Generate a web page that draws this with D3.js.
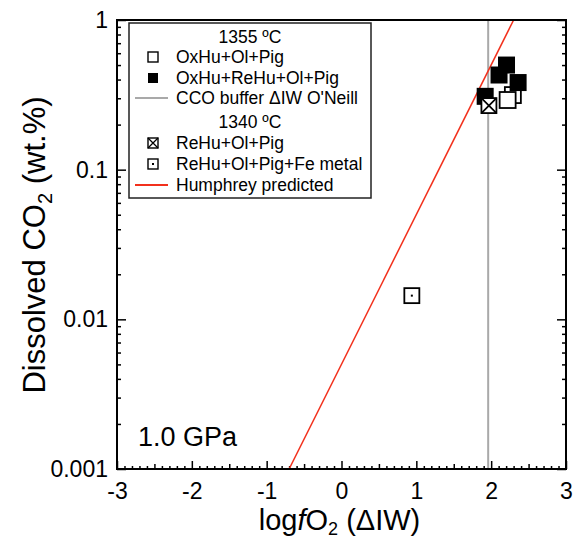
<!DOCTYPE html>
<html>
<head>
<meta charset="utf-8">
<script src="https://cdn.jsdelivr.net/npm/d3@7"></script>
<style>
  body { margin: 0; background: #fff; }
  text { font-family: "Liberation Sans", Arial, sans-serif; fill: #000; }
</style>
</head>
<body>
<div id="chart"></div>
<script>
// data
const oxHuOlPig = [{ x: 2.29, y: 0.315 }, { x: 2.22, y: 0.292 }];
const oxHuReHuOlPig = [
  { x: 1.92, y: 0.309 }, { x: 2.105, y: 0.429 },
  { x: 2.205, y: 0.50 }, { x: 2.36, y: 0.382 }
];
const reHuOlPig = [{ x: 1.97, y: 0.268 }];
const reHuOlPigFe = [{ x: 0.94, y: 0.0144 }];
const ccoBuffer = 1.96;
const humphrey = [{ x: -0.70, y: 0.001 }, { x: 2.30, y: 1 }];
const xTickValues = [-3, -2, -1, 0, 1, 2, 3];
const yTickValues = [0.001, 0.01, 0.1, 1];
const yTickLabels = ["0.001", "0.01", "0.1", "1"];
const legendRows = [
  { type: "header", label: "1355 ºC" },
  { type: "open", label: "OxHu+Ol+Pig" },
  { type: "filled", label: "OxHu+ReHu+Ol+Pig" },
  { type: "gray", label: "CCO buffer \u0394IW O'Neill" },
  { type: "header", label: "1340 ºC" },
  { type: "cross", label: "ReHu+Ol+Pig" },
  { type: "dot", label: "ReHu+Ol+Pig+Fe metal" },
  { type: "red", label: "Humphrey predicted" }
];

let margin = { left: 117, top: 20, right: 12, bottom: 70 };
let width = 578 - margin.left - margin.right;
let height = 539 - margin.top - margin.bottom;

let svg = d3.select("#chart").append("svg")
  .attr("width", 578)
  .attr("height", 539);

let g = svg.append("g")
  .attr("transform", "translate(" + margin.left + "," + margin.top + ")");

let x = d3.scaleLinear().domain([-3, 3]).range([0, width]);
let y = d3.scaleLog().domain([0.001, 1]).range([height, 0]);

const red = "#f2301c";
const gray = "#a9a9a9";

// minor tick values
let xMinor = d3.range(-30, 31).map(d => d / 10).filter(d => Math.abs(d * 2 - Math.round(d * 2)) > 1e-6);
let xHalf = d3.range(-5, 6, 2).map(d => d / 2);
let yMinor = [];
[0.001, 0.01, 0.1].forEach(dec => { for (let k = 2; k <= 9; k++) yMinor.push(dec * k); });

function styleAxis(sel) {
  sel.select(".domain").remove();
  sel.selectAll("line").attr("stroke", "#000").attr("stroke-width", 1.5);
  sel.selectAll("text").style("font-size", "23px").attr("fill", "#000");
}

g.append("g").attr("transform", "translate(0," + height + ")")
  .call(d3.axisBottom(x).tickValues(xMinor).tickSize(-3).tickFormat(""))
  .call(styleAxis);
g.append("g").attr("transform", "translate(0," + height + ")")
  .call(d3.axisBottom(x).tickValues(xHalf).tickSize(-5).tickFormat(""))
  .call(styleAxis);
g.append("g").attr("transform", "translate(0," + height + ")")
  .call(d3.axisBottom(x).tickValues(xTickValues).tickSize(-8).tickPadding(14).tickFormat(d => String(d)))
  .call(styleAxis);

g.append("g")
  .call(d3.axisLeft(y).tickValues(yMinor).tickSize(-4).tickFormat(""))
  .call(styleAxis);
g.append("g")
  .call(d3.axisLeft(y).tickValues(yTickValues).tickSize(-9).tickPadding(9)
    .tickFormat((d, i) => yTickLabels[i]))
  .call(styleAxis);
g.append("g").attr("transform", "translate(" + width + ",0)")
  .call(d3.axisRight(y).tickValues(yMinor).tickSize(-4).tickFormat(""))
  .call(styleAxis);
g.append("g").attr("transform", "translate(" + width + ",0)")
  .call(d3.axisRight(y).tickValues(yTickValues).tickSize(-9).tickFormat(""))
  .call(styleAxis);

// reference lines
g.append("line")
  .attr("x1", x(ccoBuffer)).attr("x2", x(ccoBuffer))
  .attr("y1", 0).attr("y2", height)
  .attr("stroke", gray).attr("stroke-width", 2);

g.append("path")
  .datum(humphrey)
  .attr("fill", "none")
  .attr("stroke", red)
  .attr("stroke-width", 1.5)
  .attr("d", d3.line().x(d => x(d.x)).y(d => y(d.y)));

// markers
function marker(sel, type, s) {
  let h = s / 2;
  if (type === "filled") {
    sel.append("rect").attr("x", -h).attr("y", -h).attr("width", s).attr("height", s)
      .attr("fill", "#000");
    return;
  }
  sel.append("rect").attr("x", -h).attr("y", -h).attr("width", s).attr("height", s)
    .attr("fill", "#fff").attr("stroke", "#000").attr("stroke-width", s > 12 ? 1.8 : 1.4);
  if (type === "cross") {
    sel.append("path").attr("d", `M${-h},${-h}L${h},${h}M${h},${-h}L${-h},${h}`)
      .attr("stroke", "#000").attr("stroke-width", s > 12 ? 1.8 : 1.3);
  }
  if (type === "dot") {
    sel.append("rect").attr("x", -1).attr("y", -1).attr("width", 2).attr("height", 2).attr("fill", "#000");
  }
}

function plotSeries(data, type, s) {
  g.append("g").selectAll("g")
    .data(data)
    .enter()
    .append("g")
      .attr("transform", d => "translate(" + x(d.x) + "," + y(d.y) + ")")
      .each(function () { marker(d3.select(this), type, s); });
}

plotSeries(oxHuOlPig, "open", 16);
plotSeries(oxHuReHuOlPig, "filled", 17);
plotSeries(reHuOlPig, "cross", 15);
plotSeries(reHuOlPigFe, "dot", 15);

// frame
g.append("rect")
  .attr("width", width).attr("height", height)
  .attr("fill", "none").attr("stroke", "#000").attr("stroke-width", 2);

// legend
let legend = svg.append("g").attr("transform", "translate(129,23)");
legend.append("rect")
  .attr("width", 242).attr("height", 175)
  .attr("fill", "#fff").attr("stroke", "#222").attr("stroke-width", 1.5);

let rowY = [14, 34, 55, 75, 99, 120, 141, 162];
legendRows.forEach((r, i) => {
  let row = legend.append("g").attr("transform", "translate(0," + rowY[i] + ")");
  if (r.type === "header") {
    row.append("text").attr("x", 121).attr("y", 6).attr("text-anchor", "middle")
      .style("font-size", "17.5px").text(r.label);
    return;
  }
  if (r.type === "gray" || r.type === "red") {
    row.append("line").attr("x1", 6).attr("x2", 39).attr("y1", 0).attr("y2", 0)
      .attr("stroke", r.type === "gray" ? gray : red).attr("stroke-width", 2);
  } else {
    marker(row.append("g").attr("transform", "translate(24,0)"), r.type, 10);
  }
  row.append("text").attr("x", 47).attr("y", 6).style("font-size", "17.5px").text(r.label);
});

// annotation
svg.append("text").attr("x", 138).attr("y", 446).style("font-size", "27px").text("1.0 GPa");

// axis titles
let xt = svg.append("text")
  .attr("x", margin.left + width / 2 - 2).attr("y", 530)
  .attr("text-anchor", "middle").style("font-size", "29px");
xt.append("tspan").text("log");
xt.append("tspan").style("font-style", "italic").text("f");
xt.append("tspan").text("O");
xt.append("tspan").attr("dy", 5).style("font-size", "18px").text("2");
xt.append("tspan").attr("dy", -5).text(" (\u0394IW)");

let yt = svg.append("text")
  .attr("transform", "translate(45,245) rotate(-90)")
  .attr("text-anchor", "middle").style("font-size", "31px");
yt.append("tspan").text("Dissolved CO");
yt.append("tspan").attr("dy", 7).style("font-size", "20px").text("2");
yt.append("tspan").attr("dy", -7).text(" (wt.%)");
</script>
</body>
</html>
